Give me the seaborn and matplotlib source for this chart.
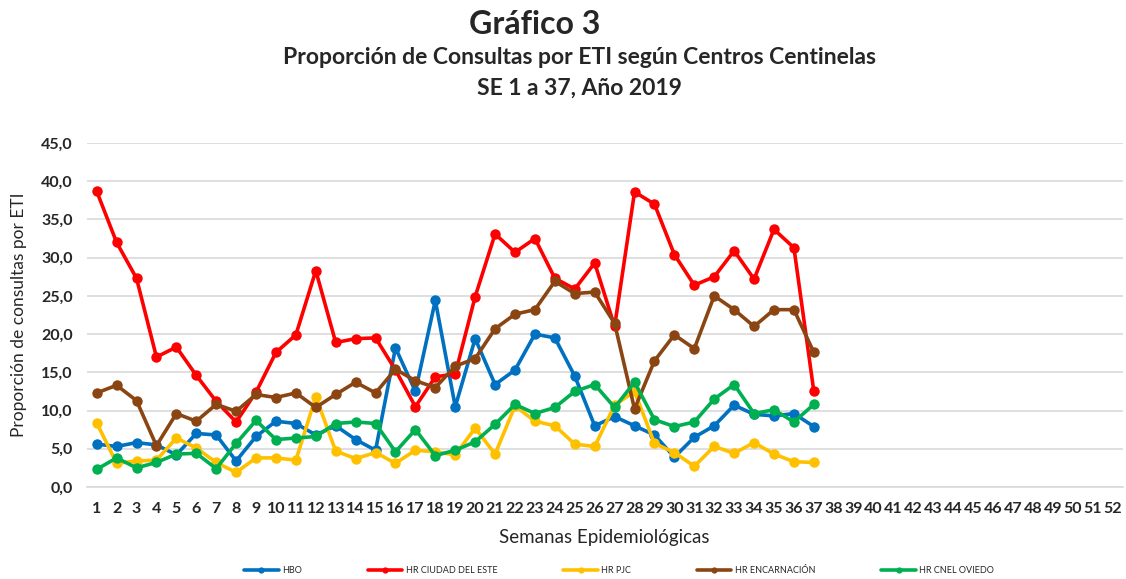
import matplotlib
matplotlib.use("Agg")
import matplotlib.pyplot as plt
import seaborn as sns
import pandas as pd

# semanas epidemiologicas 1..37 con datos, eje hasta 52
weeks = list(range(1, 38))
all_weeks = list(range(1, 53))

hbo = [5.6, 5.3, 5.8, 5.5, 4.2, 7.0, 6.8, 3.4, 6.6, 8.6, 8.3,
       6.8, 8.0, 6.2, 4.8, 18.2, 12.5, 24.4, 10.5, 19.4, 13.4, 15.3, 20.0, 19.5,
       14.5, 8.0, 9.2, 8.0, 6.8, 3.9, 6.5, 8.0, 10.7, 9.5, 9.3, 9.6, 7.9]
hr_cde = [38.7, 32.0, 27.3, 17.0, 18.3, 14.6, 11.2, 8.5, 12.4, 17.6, 19.9,
          28.3, 18.9, 19.4, 19.5, 15.3, 10.5, 14.4, 14.8, 24.9, 33.1, 30.7, 32.5, 27.3,
          25.9, 29.3, 21.0, 38.6, 37.0, 30.4, 26.4, 27.5, 30.9, 27.2, 33.7, 31.3, 12.5]
hr_pjc = [8.4, 3.1, 3.4, 3.5, 6.4, 5.1, 3.2, 1.9, 3.8, 3.8, 3.5,
          11.8, 4.7, 3.7, 4.5, 3.1, 4.8, 4.6, 4.2, 7.7, 4.3, 10.6, 8.6, 8.0,
          5.6, 5.3, 10.7, 12.5, 5.7, 4.5, 2.7, 5.3, 4.4, 5.8, 4.3, 3.3, 3.2]
hr_enc = [12.3, 13.3, 11.3, 5.4, 9.6, 8.6, 10.8, 9.9, 12.1, 11.7, 12.3,
          10.4, 12.1, 13.7, 12.3, 15.4, 13.9, 13.0, 15.8, 16.8, 20.7, 22.6, 23.2, 26.9,
          25.3, 25.5, 21.4, 10.2, 16.5, 19.9, 18.1, 25.0, 23.2, 21.0, 23.2, 23.2, 17.6]
hr_oviedo = [2.3, 3.8, 2.5, 3.2, 4.3, 4.4, 2.4, 5.7, 8.7, 6.2, 6.4,
             6.6, 8.3, 8.5, 8.3, 4.6, 7.5, 4.1, 4.8, 5.9, 8.2, 10.8, 9.6, 10.4,
             12.5, 13.4, 10.4, 13.7, 8.8, 7.9, 8.5, 11.5, 13.4, 9.6, 10.1, 8.5, 10.8]

series = ["HBO", "HR CIUDAD DEL ESTE", "HR PJC", "HR ENCARNACIÓN", "HR CNEL OVIEDO"]
colors = ["#0070C0", "#FF0000", "#FFC000", "#8B4513", "#00B050"]

rows = []
for name, vals in zip(series, [hbo, hr_cde, hr_pjc, hr_enc, hr_oviedo]):
    for w, v in zip(weeks, vals):
        rows.append({"Semana": w, "Valor": v, "Centro": name})
df = pd.DataFrame(rows)

sns.set_theme(style="white")
plt.rcParams["font.family"] = ["Lato", "DejaVu Sans"]

fig = plt.figure(figsize=(11.26, 5.79), dpi=100)
ax = fig.add_axes([0.077, 0.159, 0.92, 0.594])

sns.lineplot(data=df, x="Semana", y="Valor", hue="Centro", hue_order=series,
             palette=colors, marker="o", markersize=7.5, markeredgewidth=0,
             linewidth=2.6, ax=ax, legend=True)

ax.set_xlim(0.5, 52.5)
ax.set_ylim(0, 45)
ax.set_xticks(all_weeks)
ax.set_xticklabels([str(w) for w in all_weeks], fontsize=11.5, fontweight="bold")
ax.set_yticks([0, 5, 10, 15, 20, 25, 30, 35, 40, 45])
ax.set_yticklabels([f"{v:.1f}".replace(".", ",") for v in range(0, 50, 5)],
                   fontsize=11.5, fontweight="bold")
ax.tick_params(axis="x", length=0, pad=11)
ax.tick_params(axis="y", length=0, pad=10)
ax.yaxis.grid(True, color="#D9D9D9", linewidth=1.2)
ax.xaxis.grid(False)
for s in ["top", "right", "left"]:
    ax.spines[s].set_visible(False)
ax.spines["bottom"].set_color("#D9D9D9")
ax.spines["bottom"].set_linewidth(1.2)

ax.set_xlabel("Semanas Epidemiológicas", fontsize=13.5, labelpad=9)
ax.set_ylabel("Proporción de consultas por ETI", fontsize=12.5, labelpad=10)

handles, labels = ax.get_legend_handles_labels()
ax.get_legend().remove()
fig.legend(handles, labels, loc="center", bbox_to_anchor=(0.550, 0.014), ncol=5,
           frameon=False, fontsize=6.5, markerscale=0.6, handlelength=3.8,
           columnspacing=7.3, handletextpad=0.4)

fig.text(0.475, 0.957, "Gráfico 3", ha="center", va="center",
         fontsize=23, fontweight="bold")
fig.text(0.515, 0.900, "Proporción de Consultas por ETI según Centros Centinelas",
         ha="center", va="center", fontsize=16.5, fontweight="bold")
fig.text(0.515, 0.848, "SE 1 a 37, Año 2019", ha="center", va="center",
         fontsize=16.5, fontweight="bold")

fig.savefig("out.png", dpi=100)
